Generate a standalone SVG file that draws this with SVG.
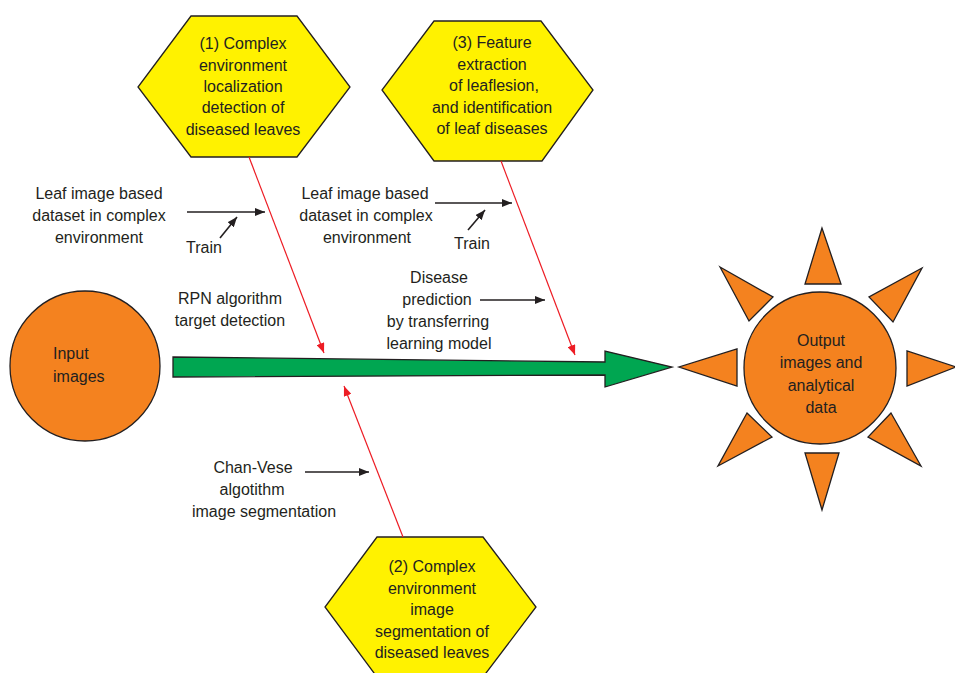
<svg xmlns="http://www.w3.org/2000/svg" width="955" height="673" viewBox="0 0 955 673">
<style>
text{font-family:"Liberation Sans",Arial,sans-serif;font-size:16px;fill:#231f20;text-anchor:middle}
.hex{fill:#fff200;stroke:#231f20;stroke-width:1.3}
.orange{fill:#f4821f;stroke:#231f20;stroke-width:1.3}
.blk{stroke:#231f20;stroke-width:1.6;fill:none}
.red{stroke:#ed1c24;stroke-width:1.2;fill:none}
.left{text-anchor:start}
</style>
<defs>
<marker id="ab" markerUnits="userSpaceOnUse" markerWidth="10" markerHeight="8" refX="10" refY="4" orient="auto">
<path d="M0,0 L10,4 L0,8 z" fill="#231f20"/>
</marker>
<marker id="ar" markerUnits="userSpaceOnUse" markerWidth="10" markerHeight="8" refX="10" refY="4" orient="auto">
<path d="M0,0 L10,4 L0,8 z" fill="#ed1c24"/>
</marker>
</defs>
<rect width="955" height="673" fill="#ffffff"/>

<g id="input">
<circle class="orange" cx="85" cy="366" r="75"/>
<text class="left" x="53" y="359">Input</text>
<text class="left" x="53" y="382">images</text>
</g>

<g id="main-arrow">
<polygon points="173,357 605,362 605,351 672,367 605,387 605,375 173,377" fill="#00a651" stroke="#231f20" stroke-width="1.3"/>
</g>

<g id="hex1">
<polygon class="hex" points="191,16 297,16 350,87 297,157 191,157 138,87"/>
<text x="243" y="49">(1) Complex</text>
<text x="243" y="70.5">environment</text>
<text x="243" y="92">localization</text>
<text x="243" y="113">detection of</text>
<text x="243" y="134.5">diseased leaves</text>
</g>

<g id="hex3">
<polygon class="hex" points="434,21 541,21 593,90 542,161 434,161 382,90"/>
<text x="492" y="48">(3) Feature</text>
<text x="492" y="69.5">extraction</text>
<text x="494" y="91">of leaflesion,</text>
<text x="492" y="112.5">and identification</text>
<text x="492" y="134">of leaf diseases</text>
</g>

<g id="hex2">
<polygon class="hex" points="377,537 483,537 536,607 483,677 377,677 325,607"/>
<text x="432" y="572">(2) Complex</text>
<text x="432" y="593.5">environment</text>
<text x="432" y="615">image</text>
<text x="432" y="636.5">segmentation of</text>
<text x="432" y="658">diseased leaves</text>
</g>

<g id="output">
<circle class="orange" cx="820" cy="368" r="76"/>
<polygon class="orange" points="822,228 805,284 841,284"/>
<polygon class="orange" points="805,453 839,453 822,510"/>
<polygon class="orange" points="737,349 737,386 679,367"/>
<polygon class="orange" points="907,351 907,386 956,367"/>
<polygon class="orange" points="720,267 773,297 749,321"/>
<polygon class="orange" points="922,268 869,297 893,322"/>
<polygon class="orange" points="747,413 772,437 718,466"/>
<polygon class="orange" points="891,413 868,437 921,466"/>
<text x="821" y="346">Output</text>
<text x="821" y="368">images and</text>
<text x="821" y="391">analytical</text>
<text x="821" y="413">data</text>
</g>

<g id="labels">
<text x="99" y="199">Leaf image based</text>
<text x="99" y="221">dataset in complex</text>
<text x="99" y="243">environment</text>
<text x="204" y="253">Train</text>
<text x="365" y="199">Leaf image based</text>
<text x="366" y="221">dataset in complex</text>
<text x="367" y="243">environment</text>
<text x="472" y="249">Train</text>
<text x="230" y="304">RPN algorithm</text>
<text x="230" y="326">target detection</text>
<text x="439" y="283">Disease</text>
<text x="437" y="305">prediction</text>
<text x="438" y="327">by transferring</text>
<text x="439" y="349">learning model</text>
<text x="253" y="473">Chan-Vese</text>
<text x="252" y="495">algotithm</text>
<text x="264" y="517">image segmentation</text>
</g>

<g id="connectors">
<line class="red" x1="249" y1="157" x2="324" y2="353" marker-end="url(#ar)"/>
<line class="red" x1="501" y1="161" x2="575" y2="355" marker-end="url(#ar)"/>
<line class="red" x1="403" y1="537" x2="344" y2="386" marker-end="url(#ar)"/>
<line class="blk" x1="187" y1="212" x2="265" y2="212" marker-end="url(#ab)"/>
<line class="blk" x1="220" y1="238" x2="237" y2="217" marker-end="url(#ab)"/>
<line class="blk" x1="435" y1="203" x2="512" y2="203" marker-end="url(#ab)"/>
<line class="blk" x1="468" y1="230" x2="485" y2="210" marker-end="url(#ab)"/>
<line class="blk" x1="480" y1="300" x2="545" y2="300" marker-end="url(#ab)"/>
<line class="blk" x1="305" y1="472" x2="369" y2="472" marker-end="url(#ab)"/>
</g>
</svg>
